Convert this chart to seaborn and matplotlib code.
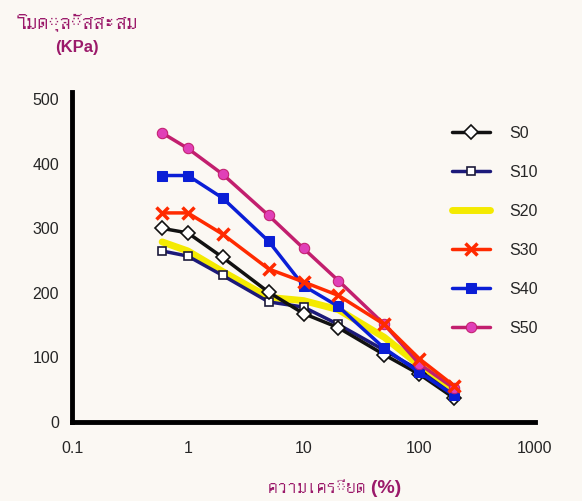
import matplotlib
matplotlib.use("Agg")
import matplotlib.pyplot as plt
import seaborn as sns
import pandas as pd
from matplotlib import font_manager, ft2font

# strain (%) and accumulated modulus (KPa)
strain = [0.6, 1, 2, 5, 10, 20, 50, 100, 200]
s0 = [300, 293, 255, 201, 168, 146, 104, 74, 37]
s10 = [265, 257, 227, 186, 178, 151, 111, 80, 41]
s20 = [279, 265, 233, 193, 188, 174, 131, 88, 47]
s30 = [324, 324, 291, 237, 217, 196, 151, 98, 56]
s40 = [382, 382, 347, 280, 211, 179, 114, 77, 41]
s50 = [448, 424, 384, 320, 269, 219, 151, 90, 52]
series_names = ["S0", "S10", "S20", "S30", "S40", "S50"]

y_ticks = [0, 100, 200, 300, 400, 500]
x_ticks = [0.1, 1, 10, 100, 1000]
x_tick_labels = ["0.1", "1", "10", "100", "1000"]


def find_thai_font():
    """Pick an installed font that has Thai glyphs"""
    for path in font_manager.findSystemFonts():
        try:
            if 0x0E21 in ft2font.FT2Font(path).get_charmap():
                return font_manager.FontProperties(fname=path).get_name()
        except Exception:
            continue
    return "DejaVu Sans"


sns.set_style("white")
thai_font = find_thai_font()
plt.rcParams['font.family'] = ['Liberation Sans', thai_font, 'DejaVu Sans']

df = pd.DataFrame({"strain": strain, "S0": s0, "S10": s10, "S20": s20,
                   "S30": s30, "S40": s40, "S50": s50})

styles = {
    "S0": dict(color="#111111", marker="D", markersize=7, markerfacecolor="white",
               markeredgecolor="#111111", markeredgewidth=1.2, linewidth=2.5),
    "S10": dict(color="#1c1a7a", marker="s", markersize=6, markerfacecolor="white",
                markeredgecolor="#1c1a3a", markeredgewidth=1.2, linewidth=2.5),
    "S20": dict(color="#f4ea00", marker=None, linewidth=5),
    "S30": dict(color="#ff2a00", marker="x", markersize=8, markeredgecolor="#ff2a00",
                markeredgewidth=2.5, linewidth=2.5),
    "S40": dict(color="#0a1ed6", marker="s", markersize=7, markerfacecolor="#0a1ed6",
                markeredgecolor="#0a1ed6", linewidth=2.5),
    "S50": dict(color="#c21f6e", marker="o", markersize=7.5, markerfacecolor="#e040b8",
                markeredgecolor="#c21f6e", linewidth=2.5),
}
z = {"S0": 5, "S10": 4, "S20": 3, "S30": 6, "S40": 5, "S50": 5}

fig = plt.figure(figsize=(5.82, 5.01), dpi=100)
fig.patch.set_facecolor("#fbf8f3")
ax = fig.add_axes([0.124, 0.158, 0.795, 0.659])
ax.set_facecolor("#fbf8f3")

for name in series_names:
    sns.lineplot(data=df, x="strain", y=name, ax=ax, label=name, zorder=z[name],
                 linestyle="-", **styles[name])

ax.set_xscale("log")
ax.set_xlim(0.1, 1000)
ax.set_ylim(0, 512)
ax.set_xticks(x_ticks)
ax.set_xticklabels(x_tick_labels)
ax.minorticks_off()
ax.set_yticks(y_ticks)
ax.tick_params(axis="both", direction="out", length=6, width=3, labelsize=11.5, color="black")
ax.tick_params(axis="x", pad=8)
for side in ["top", "right"]:
    ax.spines[side].set_visible(False)
for side in ["left", "bottom"]:
    ax.spines[side].set_linewidth(3.5)
    ax.spines[side].set_color("black")
ax.set_xlabel("")
ax.set_ylabel("")

leg = ax.legend(loc="upper left", bbox_to_anchor=(0.79, 0.94), frameon=False,
                fontsize=11.5, labelspacing=1.5, handlelength=2.4, handletextpad=1.2)

fig.text(0.132, 0.955, "โมดุลัสสะสม", ha="center", va="center", fontsize=16,
         fontweight="bold", color="#9b1a6a")
fig.text(0.133, 0.905, "(KPa)", ha="center", va="center", fontsize=12,
         fontweight="bold", color="#9b1a6a")
fig.text(0.575, 0.025, "ความเครียด (%)", ha="center", va="center", fontsize=14,
         fontweight="bold", color="#9b1a6a")

plt.savefig("out.png", dpi=100, facecolor=fig.get_facecolor())
plt.close()
